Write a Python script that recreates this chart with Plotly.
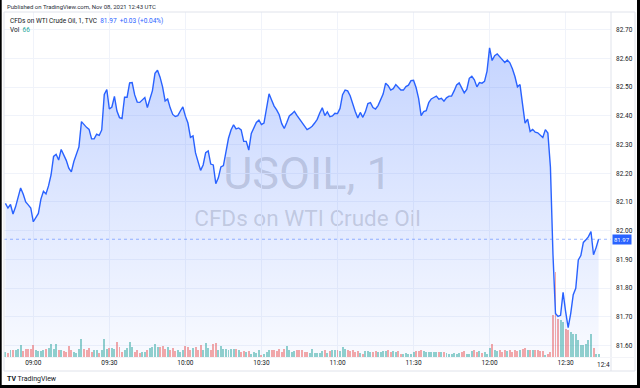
import plotly.graph_objects as go
import pandas as pd

# ---------------- data ----------------
START_TIME = "2021-11-08 08:49"   # first 1-minute bar

close_prices = [
    82.095, 82.079, 82.091, 82.058, 82.083, 82.117, 82.149, 82.128, 82.100, 82.090,
    82.079, 82.031, 82.046, 82.060, 82.110, 82.137, 82.128, 82.156, 82.194, 82.259,
    82.266, 82.246, 82.283, 82.266, 82.245, 82.218, 82.205, 82.241, 82.267, 82.292,
    82.380, 82.368, 82.360, 82.353, 82.320, 82.320, 82.336, 82.332, 82.351, 82.475,
    82.492, 82.424, 82.431, 82.468, 82.417, 82.394, 82.391, 82.465, 82.465, 82.515,
    82.516, 82.473, 82.448, 82.447, 82.456, 82.464, 82.429, 82.461, 82.488, 82.548,
    82.559, 82.535, 82.501, 82.452, 82.459, 82.428, 82.405, 82.398, 82.401, 82.417,
    82.431, 82.399, 82.375, 82.325, 82.330, 82.271, 82.241, 82.210, 82.229, 82.272,
    82.278, 82.232, 82.229, 82.164, 82.184, 82.222, 82.227, 82.276, 82.322, 82.351,
    82.369, 82.355, 82.358, 82.351, 82.311, 82.311, 82.281, 82.339, 82.361, 82.377,
    82.385, 82.370, 82.375, 82.431, 82.477, 82.455, 82.434, 82.421, 82.404, 82.373,
    82.356, 82.377, 82.400, 82.407, 82.416, 82.402, 82.390, 82.378, 82.363, 82.352,
    82.357, 82.364, 82.375, 82.388, 82.410, 82.428, 82.401, 82.414, 82.397, 82.400,
    82.409, 82.408, 82.426, 82.474, 82.490, 82.487, 82.470, 82.438, 82.415, 82.393,
    82.412, 82.395, 82.414, 82.443, 82.446, 82.429, 82.424, 82.436, 82.454, 82.476,
    82.514, 82.505, 82.490, 82.495, 82.509, 82.498, 82.490, 82.490, 82.502, 82.507,
    82.523, 82.524, 82.499, 82.461, 82.401, 82.415, 82.418, 82.446, 82.459, 82.464,
    82.469, 82.458, 82.461, 82.451, 82.463, 82.469, 82.469, 82.487, 82.508, 82.515,
    82.499, 82.480, 82.492, 82.531, 82.538, 82.526, 82.501, 82.516, 82.514, 82.520,
    82.556, 82.637, 82.593, 82.610, 82.616, 82.606, 82.595, 82.586, 82.595, 82.585,
    82.564, 82.537, 82.501, 82.509, 82.441, 82.375, 82.389, 82.346, 82.353, 82.343,
    82.341, 82.334, 82.325, 82.352, 82.340, 82.222, 81.919, 81.711, 81.701, 81.705,
    81.785, 81.718, 81.662, 81.711, 81.777, 81.799, 81.898, 81.913, 81.959, 81.968,
    81.979, 81.997, 81.916, 81.940, 81.970,
]

volumes = [
    100, 87, 147, 133, 147, 167, 233, 120, 167, 167,
    167, 247, 133, 120, 120, 147, 167, 187, 253, 167,
    253, 133, 133, 120, 100, 213, 147, 100, 80, 167,
    367, 167, 133, 187, 100, 133, 147, 80, 133, 367,
    167, 187, 187, 167, 300, 200, 100, 147, 187, 300,
    200, 100, 147, 80, 100, 100, 147, 187, 200, 267,
    200, 200, 213, 167, 200, 147, 187, 120, 133, 100,
    147, 213, 200, 147, 187, 200, 133, 233, 147, 287,
    187, 147, 253, 280, 147, 213, 167, 167, 147, 167,
    167, 167, 133, 100, 120, 100, 113, 67, 100, 80,
    147, 33, 53, 100, 147, 147, 147, 120, 167, 100,
    167, 213, 133, 100, 120, 147, 133, 147, 100, 100,
    80, 167, 80, 80, 80,
    113, 133, 80, 120, 133, 147, 133, 113, 200,
    167, 147, 120, 133, 100, 120, 80, 53, 120, 120,
    100, 100, 120, 100, 100, 120, 120, 147, 100, 120,
    100, 120, 67, 53, 80, 53, 67, 100, 120, 120,
    147, 120, 100, 100, 100, 100, 100, 100, 100, 100,
    80, 67, 67, 80, 53, 80, 100, 120, 67, 67,
    120, 147, 100, 120, 80, 100, 67, 187, 253, 133,
    120, 147, 100, 133, 120, 133, 100, 133, 120,
    133, 167, 187, 147, 147, 133, 133, 133, 120, 120,
    33, 53, 100,
    833, 1700, 767, 733, 700, 567, 547, 500, 467, 453,
    347, 233, 247, 253, 347, 467, 187, 67, 66,
]

price_ticks = [81.6, 81.7, 81.8, 81.9, 82.0, 82.1, 82.2, 82.3, 82.4, 82.5, 82.6, 82.7]
time_ticks = ["09:00", "09:30", "10:00", "10:30", "11:00", "11:30", "12:00", "12:30"]
DATE = "2021-11-08"
LAST_PRICE = 81.97
CHANGE_TEXT = "+0.03 (+0.04%)"
LAST_VOLUME = 66
SYMBOL_TITLE = "CFDs on WTI Crude Oil, 1, TVC"
WATERMARK_1 = "USOIL, 1"
WATERMARK_2 = "CFDs on WTI Crude Oil"
HEADER = "Published on TradingView.com, Nov 08, 2021 12:43 UTC"

# ---------------- figure ----------------
WIDTH, HEIGHT = 640, 388
L, R, T, B = 4, 29, 12, 31
PW, PH = WIDTH - L - R, HEIGHT - T - B


def px_x(px):
    return (px - L) / PW


def px_y(py):
    return (HEIGHT - B - py) / PH


times = pd.date_range(START_TIME, periods=len(close_prices), freq="min")
opens = [close_prices[0]] + close_prices[:-1]
UP = "rgba(38,166,154,0.5)"
DOWN = "rgba(239,83,80,0.5)"
bar_colors = [UP if c >= o else DOWN for c, o in zip(close_prices, opens)]

FONT = "Roboto, Liberation Sans, sans-serif"
TXT = "#131722"
GRID = "#f0f3fa"
BORDER = "#e0e3eb"
BLUE = "#2962ff"

fig = go.Figure()
fig.add_trace(go.Bar(
    x=times, y=volumes, yaxis="y", marker=dict(color=bar_colors, line=dict(width=0)),
    width=60000 * 0.78, hoverinfo="skip", showlegend=False,
))
fig.add_trace(go.Scatter(
    x=times, y=close_prices, yaxis="y2", mode="lines",
    line=dict(color=BLUE, width=1.4),
    fill="tozeroy",
    fillgradient=dict(type="vertical",
                      colorscale=[[0, "rgba(41,98,255,0.03)"], [1, "rgba(41,98,255,0.30)"]],
                      start=81.56, stop=82.76),
    hoverinfo="skip", showlegend=False,
))

base = pd.Timestamp(DATE + " 09:00")
x_lo = base + pd.Timedelta(minutes=-11.56)
x_hi = base + pd.Timedelta(minutes=227.9)

fig.update_layout(
    width=WIDTH, height=HEIGHT,
    margin=dict(l=L, r=R, t=T, b=B, pad=0),
    paper_bgcolor="white", plot_bgcolor="rgba(0,0,0,0)",
    font=dict(family=FONT, size=6.5, color=TXT),
    bargap=0,
    xaxis=dict(
        type="date", range=[x_lo, x_hi],
        tickvals=[pd.Timestamp(DATE + " " + t) for t in time_ticks],
        ticktext=time_ticks, ticks="", showgrid=True, gridcolor=GRID, gridwidth=1,
        zeroline=False, showline=False, tickfont=dict(size=6.5, color=TXT),
        ticklabelstandoff=0,
    ),
    yaxis=dict(range=[0, 6900], visible=False, showgrid=False, zeroline=False),
    yaxis2=dict(
        overlaying="y", side="right", range=[81.5597, 82.762],
        tickvals=price_ticks, ticktext=[f"{v:.2f}" for v in price_ticks],
        ticks="", showgrid=True, gridcolor=GRID, gridwidth=1, zeroline=False,
        showline=False, tickfont=dict(size=6.5, color=TXT), ticklabelstandoff=4,
    ),
)

shapes = []
# watermark (below the series)
shapes.append(dict(type="rect", xref="paper", yref="paper", layer="below",
                   x0=0, x1=1, y0=px_y(192), y1=px_y(148),
                   line=dict(width=0), fillcolor="rgba(0,0,0,0)",
                   label=dict(text=WATERMARK_1, textposition="middle center",
                              font=dict(family=FONT, size=45, color="rgba(120,123,134,0.30)"))))
shapes.append(dict(type="rect", xref="paper", yref="paper", layer="below",
                   x0=0, x1=1, y0=px_y(228), y1=px_y(204),
                   line=dict(width=0), fillcolor="rgba(0,0,0,0)",
                   label=dict(text=WATERMARK_2, textposition="middle center",
                              font=dict(family=FONT, size=22.5, color="rgba(120,123,134,0.30)"))))
# last price dotted line
shapes.append(dict(type="line", xref="paper", yref="y2", x0=0, x1=1,
                   y0=LAST_PRICE, y1=LAST_PRICE,
                   line=dict(color="rgba(41,98,255,0.45)", width=1, dash="dot")))
# pane borders
shapes.append(dict(type="rect", xref="paper", yref="paper",
                   x0=px_x(4), x1=px_x(635), y0=px_y(371), y1=px_y(12),
                   line=dict(color=BORDER, width=1)))
shapes.append(dict(type="line", xref="paper", yref="paper",
                   x0=px_x(611), x1=px_x(611), y0=px_y(371), y1=px_y(12),
                   line=dict(color=BORDER, width=1)))
shapes.append(dict(type="line", xref="paper", yref="paper",
                   x0=px_x(4), x1=px_x(635), y0=px_y(357.5), y1=px_y(357.5),
                   line=dict(color="#f3f4f8", width=1)))
# black frame of the screenshot
for x0, x1, y0, y1 in [(0, 1.7, 0, 388), (637, 640, 0, 388), (0, 640, 385, 388)]:
    shapes.append(dict(type="rect", xref="paper", yref="paper",
                       x0=px_x(x0), x1=px_x(x1), y0=px_y(y1), y1=px_y(y0),
                       line=dict(width=0), fillcolor="black"))
fig.update_layout(shapes=shapes)

ann = []
ann.append(dict(xref="paper", yref="paper", x=px_x(5), y=px_y(7), xanchor="left",
                yanchor="middle", showarrow=False, text=HEADER,
                font=dict(size=6, color="#2a2e39")))
ann.append(dict(xref="paper", yref="paper", x=px_x(8), y=px_y(21.5), xanchor="left",
                yanchor="middle", showarrow=False,
                text=f"{SYMBOL_TITLE}  <span style='color:{BLUE}'>{LAST_PRICE:.2f}  {CHANGE_TEXT}</span>",
                font=dict(size=6.5, color=TXT)))
ann.append(dict(xref="paper", yref="paper", x=px_x(8), y=px_y(30), xanchor="left",
                yanchor="middle", showarrow=False,
                text=f"Vol  <span style='color:#26a69a'>{LAST_VOLUME}</span>",
                font=dict(size=6.5, color=TXT)))
ann.append(dict(xref="paper", yref="y2", x=px_x(611.5), y=LAST_PRICE, xanchor="left",
                yanchor="middle", showarrow=False, text=f"{LAST_PRICE:.2f}",
                bgcolor=BLUE, borderpad=1, font=dict(size=6, color="white")))
ann.append(dict(xref="x", yref="paper", x=pd.Timestamp(DATE + " 12:45"), y=px_y(364.5),
                xanchor="center", yanchor="middle", showarrow=False, text="12:4",
                font=dict(size=6.5, color=TXT)))
ann.append(dict(xref="paper", yref="paper", x=px_x(5), y=px_y(379), xanchor="left",
                yanchor="middle", showarrow=False,
                text="<b>TV</b> TradingView", font=dict(size=7, color=TXT)))
fig.update_layout(annotations=ann)

fig.write_html("out.html", config={"displayModeBar": False},
               post_script="document.body.style.margin='0';document.body.style.padding='0';")
